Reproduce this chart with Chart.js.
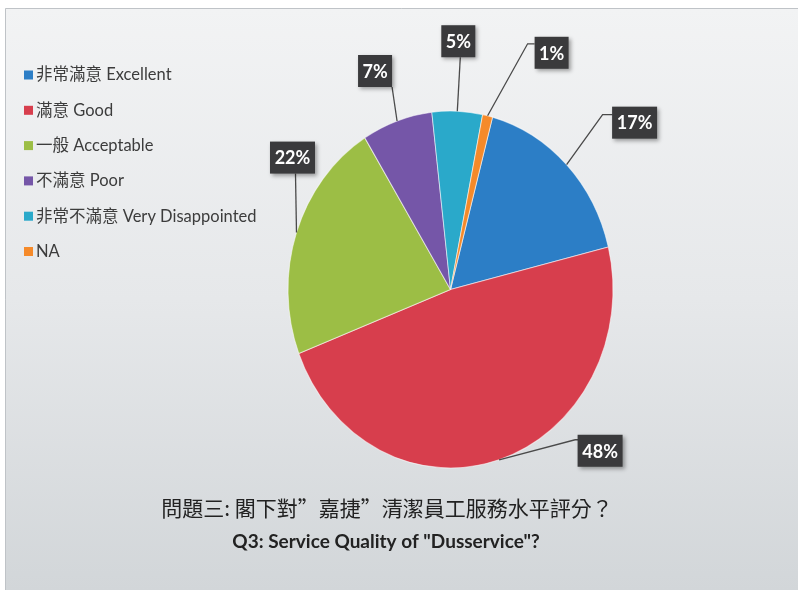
<!DOCTYPE html>
<html>
<head>
<meta charset="utf-8">
<script src="https://cdn.jsdelivr.net/npm/chart.js@4.4.1/dist/chart.umd.min.js"></script>
<style>
  html, body { margin: 0; padding: 0; background: #ffffff; }
  canvas { display: block; }
</style>
</head>
<body>
<canvas id="chart" width="798" height="592"></canvas>
<script>
// Survey answers (percent of respondents)
const categories = [
  '非常滿意 Excellent',
  '滿意 Good',
  '一般 Acceptable',
  '不滿意 Poor',
  '非常不滿意 Very Disappointed',
  'NA'
];
const shares = [17, 48, 22, 7, 5, 1];
const sliceColors = ['#2c7ec6', '#d73e4d', '#9cbe45', '#7556a8', '#2aa9ca', '#f58a2a'];
const titleZh = '問題三: 閣下對”嘉捷”清潔員工服務水平評分？';
const titleEn = 'Q3: Service Quality of "Dusservice"?';

// vertical stretch of the pie (drawn as an ellipse)
const SY = 1.098;

// callout placement for each slice: box centre offset from the rim point,
// leader attach point relative to box centre, and a short horizontal elbow
const callouts = [
  { dx: 68,  dy: -42, ax: -22, ay: -8,  elbow: 10 },
  { dx: 101, dy: -9,  ax: -22, ay: -11, elbow: 3 },
  { dx: -4,  dy: -75, ax: 3,   ay: 16,  elbow: 0 },
  { dx: -22, dy: -50, ax: 17,  ay: 16,  elbow: 0 },
  { dx: 1,   dy: -70, ax: 2,   ay: 16,  elbow: 0 },
  { dx: 64,  dy: -63, ax: -17, ay: -9,  elbow: 7 }
];

const LATIN = 'Lato';
const CJK = '"Noto Sans CJK TC"';

const panelPlugin = {
  id: 'panel',
  beforeDraw(chart) {
    const ctx = chart.ctx;
    const W = chart.width, H = chart.height;
    ctx.save();
    ctx.fillStyle = '#ffffff';
    ctx.fillRect(0, 0, W, H);
    const g = ctx.createLinearGradient(0, 8, 0, 590);
    g.addColorStop(0, '#f2f3f4');
    g.addColorStop(0.5, '#e6e8ea');
    g.addColorStop(1, '#d2d6d9');
    ctx.fillStyle = g;
    ctx.fillRect(5, 8, W - 5, 582);
    ctx.strokeStyle = '#bfc3c7';
    ctx.lineWidth = 1;
    ctx.beginPath();
    ctx.moveTo(5.5, 590);
    ctx.lineTo(5.5, 8.5);
    ctx.lineTo(W, 8.5);
    ctx.stroke();
    ctx.restore();
  }
};

const ellipsePlugin = {
  id: 'ellipse',
  beforeDatasetsDraw(chart) {
    const arc = chart.getDatasetMeta(0).data[0];
    const ctx = chart.ctx;
    ctx.save();
    ctx.translate(arc.x, arc.y);
    ctx.scale(1, SY);
    ctx.translate(-arc.x, -arc.y);
  },
  afterDatasetsDraw(chart) {
    chart.ctx.restore();
  }
};

const textPlugin = {
  id: 'texts',
  afterDraw(chart) {
    const ctx = chart.ctx;
    const meta = chart.getDatasetMeta(0);
    ctx.save();

    // callouts with leader lines
    meta.data.forEach((arc, i) => {
      const mid = (arc.startAngle + arc.endAngle) / 2;
      const px = arc.x + Math.cos(mid) * arc.outerRadius;
      const py = arc.y + Math.sin(mid) * arc.outerRadius * SY;
      const c = callouts[i];
      const cx = px + c.dx, cy = py + c.dy;
      const text = shares[i] + '%';
      ctx.font = 'bold 18px ' + LATIN;
      const w = Math.round(ctx.measureText(text).width + 9);
      const h = 32;
      const tx = cx + c.ax, ty = cy + c.ay;

      ctx.strokeStyle = '#4a4a4a';
      ctx.lineWidth = 1.3;
      ctx.beginPath();
      ctx.moveTo(px, py);
      if (c.elbow) {
        ctx.lineTo(tx - c.elbow, ty);
      }
      ctx.lineTo(tx, ty);
      ctx.stroke();

      ctx.save();
      ctx.shadowColor = 'rgba(0,0,0,0.35)';
      ctx.shadowBlur = 4;
      ctx.shadowOffsetX = 2;
      ctx.shadowOffsetY = 2;
      ctx.fillStyle = '#3a3a3c';
      ctx.fillRect(cx - w / 2, cy - h / 2, w, h);
      ctx.restore();

      ctx.fillStyle = '#ffffff';
      ctx.textAlign = 'center';
      ctx.textBaseline = 'middle';
      ctx.fillText(text, cx, cy + 1);
    });

    // legend
    ctx.textAlign = 'left';
    ctx.textBaseline = 'middle';
    ctx.font = '16.5px ' + LATIN + ', ' + CJK;
    categories.forEach((label, i) => {
      const y = 75 + i * 35.3;
      ctx.fillStyle = sliceColors[i];
      ctx.fillRect(24, y - 4.5, 9, 9);
      ctx.fillStyle = '#3c3c3c';
      ctx.fillText(label, 36, y);
    });

    // titles
    ctx.textAlign = 'center';
    ctx.fillStyle = '#222222';
    ctx.font = '21px ' + CJK;
    ctx.fillText(titleZh, 387, 508);
    ctx.font = 'bold 19px ' + LATIN;
    ctx.fillText(titleEn, 386, 542);
    ctx.restore();
  }
};

new Chart(document.getElementById('chart'), {
  type: 'pie',
  data: {
    labels: categories,
    datasets: [{
      data: shares,
      backgroundColor: sliceColors,
      borderColor: 'rgba(255,255,255,0.55)',
      borderWidth: 1,
      hoverOffset: 0,
      clip: false
    }]
  },
  options: {
    responsive: false,
    animation: false,
    events: [],
    rotation: 15,
    radius: 162.5,
    layout: { padding: { left: 280, right: 177, top: 119, bottom: 132 } },
    plugins: {
      legend: { display: false },
      tooltip: { enabled: false },
      title: { display: false }
    }
  },
  plugins: [panelPlugin, ellipsePlugin, textPlugin]
});
</script>
</body>
</html>
